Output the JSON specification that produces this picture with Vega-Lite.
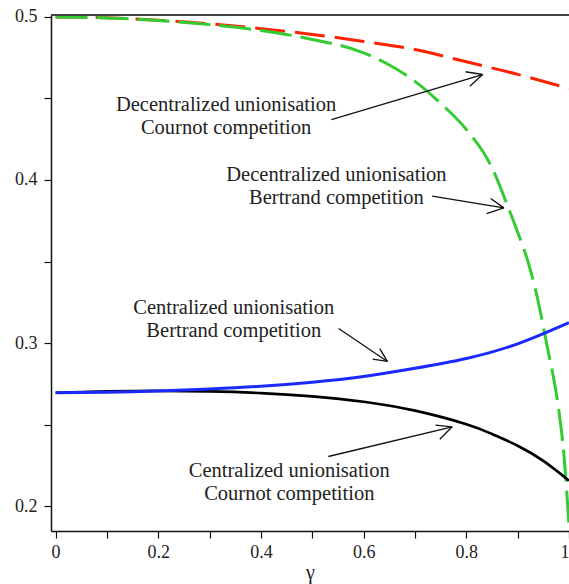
{
  "$schema": "https://vega.github.io/schema/vega-lite/v6.json",
  "width": 518,
  "height": 516,
  "autosize": {"type": "none"},
  "padding": {"left": 51, "top": 15, "right": 0, "bottom": 53},
  "background": "white",
  "config": {
    "view": {"stroke": null},
    "font": "Liberation Serif",
    "axis": {
      "grid": false,
      "domainColor": "#111",
      "domainWidth": 1.5,
      "tickColor": "#111",
      "tickWidth": 1.2,
      "tickSize": 7,
      "labelFont": "Liberation Serif",
      "labelFontSize": 18,
      "labelColor": "#222",
      "titleFont": "Liberation Serif",
      "titleFontWeight": "normal",
      "titleColor": "#222"
    }
  },
  "datasets": {
    "curves": [
      {"series": "dc", "x": 0.0, "y": 0.5},
      {"series": "dc", "x": 0.1, "y": 0.4995},
      {"series": "dc", "x": 0.2, "y": 0.498},
      {"series": "dc", "x": 0.3, "y": 0.4958},
      {"series": "dc", "x": 0.4, "y": 0.4928},
      {"series": "dc", "x": 0.5, "y": 0.4893},
      {"series": "dc", "x": 0.6, "y": 0.485},
      {"series": "dc", "x": 0.7, "y": 0.48},
      {"series": "dc", "x": 0.8, "y": 0.4725},
      {"series": "dc", "x": 0.9, "y": 0.4648},
      {"series": "dc", "x": 1.0, "y": 0.4561},
      {"series": "db", "x": 0.0, "y": 0.5},
      {"series": "db", "x": 0.1, "y": 0.4994},
      {"series": "db", "x": 0.2, "y": 0.4978},
      {"series": "db", "x": 0.3, "y": 0.4953},
      {"series": "db", "x": 0.4, "y": 0.4917},
      {"series": "db", "x": 0.5, "y": 0.4862},
      {"series": "db", "x": 0.6, "y": 0.478},
      {"series": "db", "x": 0.65, "y": 0.4705},
      {"series": "db", "x": 0.7, "y": 0.4605},
      {"series": "db", "x": 0.75, "y": 0.447},
      {"series": "db", "x": 0.8, "y": 0.431},
      {"series": "db", "x": 0.85, "y": 0.4075},
      {"series": "db", "x": 0.88, "y": 0.3845},
      {"series": "db", "x": 0.9, "y": 0.368},
      {"series": "db", "x": 0.92, "y": 0.35},
      {"series": "db", "x": 0.94, "y": 0.3255},
      {"series": "db", "x": 0.95, "y": 0.31},
      {"series": "db", "x": 0.96, "y": 0.294},
      {"series": "db", "x": 0.97, "y": 0.2785},
      {"series": "db", "x": 0.98, "y": 0.259},
      {"series": "db", "x": 0.99, "y": 0.232},
      {"series": "db", "x": 1.0, "y": 0.188},
      {"series": "cb", "x": 0.0, "y": 0.2695},
      {"series": "cb", "x": 0.1, "y": 0.2698},
      {"series": "cb", "x": 0.2, "y": 0.2705},
      {"series": "cb", "x": 0.3, "y": 0.2718},
      {"series": "cb", "x": 0.4, "y": 0.2735},
      {"series": "cb", "x": 0.5, "y": 0.276},
      {"series": "cb", "x": 0.6, "y": 0.2795},
      {"series": "cb", "x": 0.7, "y": 0.2845},
      {"series": "cb", "x": 0.8, "y": 0.2905},
      {"series": "cb", "x": 0.9, "y": 0.2995},
      {"series": "cb", "x": 1.0, "y": 0.3125},
      {"series": "cc", "x": 0.0, "y": 0.2695},
      {"series": "cc", "x": 0.1, "y": 0.2703},
      {"series": "cc", "x": 0.2, "y": 0.2706},
      {"series": "cc", "x": 0.3, "y": 0.2703},
      {"series": "cc", "x": 0.4, "y": 0.2693},
      {"series": "cc", "x": 0.5, "y": 0.2673},
      {"series": "cc", "x": 0.6, "y": 0.264},
      {"series": "cc", "x": 0.7, "y": 0.2585},
      {"series": "cc", "x": 0.8, "y": 0.2502},
      {"series": "cc", "x": 0.85, "y": 0.2442},
      {"series": "cc", "x": 0.9, "y": 0.237},
      {"series": "cc", "x": 0.95, "y": 0.2277},
      {"series": "cc", "x": 1.0, "y": 0.2156}
    ],
    "arrows": [
      {"x": 0.5371, "y": 0.4371, "x2": 0.8316, "y2": 0.4647},
      {"x": 0.7985, "y": 0.4664, "x2": 0.8316, "y2": 0.4647},
      {"x": 0.8069, "y": 0.4575, "x2": 0.8316, "y2": 0.4647},
      {"x": 0.7335, "y": 0.3901, "x2": 0.8732, "y2": 0.3829},
      {"x": 0.8473, "y": 0.3887, "x2": 0.8732, "y2": 0.3829},
      {"x": 0.8395, "y": 0.3794, "x2": 0.8732, "y2": 0.3829},
      {"x": 0.5513, "y": 0.3089, "x2": 0.6463, "y2": 0.2887},
      {"x": 0.6313, "y": 0.2966, "x2": 0.6463, "y2": 0.2887},
      {"x": 0.6174, "y": 0.2901, "x2": 0.6463, "y2": 0.2887},
      {"x": 0.5312, "y": 0.2304, "x2": 0.7725, "y2": 0.2486},
      {"x": 0.74, "y": 0.2496, "x2": 0.7725, "y2": 0.2486},
      {"x": 0.7483, "y": 0.241, "x2": 0.7725, "y2": 0.2486}
    ],
    "labels": [
      {"x": 0.332, "y": 0.4426, "text": ["Decentralized unionisation", "Cournot competition"]},
      {"x": 0.547, "y": 0.3991, "text": ["Decentralized unionisation", "Bertrand competition"]},
      {"x": 0.347, "y": 0.3181, "text": ["Centralized unionisation", "Bertrand competition"]},
      {"x": 0.4552, "y": 0.2181, "text": ["Centralized unionisation", "Cournot competition"]}
    ],
    "frame": [{"y": 0.5012}]
  },
  "layer": [
    {
      "data": {"name": "curves"},
      "transform": [{"filter": "datum.series === 'dc'"}],
      "mark": {"type": "line", "color": "#ff2200", "strokeWidth": 3, "strokeDash": [30, 10], "interpolate": "natural"},
      "encoding": {
        "x": {
          "field": "x", "type": "quantitative",
          "scale": {"domain": [-0.009, 1.0], "nice": false, "zero": false},
          "axis": {
            "values": [0, 0.1, 0.2, 0.3, 0.4, 0.5, 0.6, 0.7, 0.8, 0.9, 1],
            "labelExpr": "round(datum.value * 10) % 2 == 0 ? format(datum.value, '~g') : ''",
            "labelPadding": 5,
            "title": "γ",
            "titleFontSize": 20,
            "titlePadding": 1
          }
        },
        "y": {
          "field": "y", "type": "quantitative",
          "scale": {"domain": [0.1847, 0.5012], "nice": false, "zero": false},
          "axis": {
            "values": [0.2, 0.25, 0.3, 0.35, 0.4, 0.45, 0.5],
            "labelExpr": "round(datum.value * 100) % 10 == 0 ? format(datum.value, '~g') : ''",
            "labelPadding": 7,
            "title": null
          }
        }
      }
    },
    {
      "data": {"name": "curves"},
      "transform": [{"filter": "datum.series === 'db'"}],
      "mark": {"type": "line", "color": "#33cc33", "strokeWidth": 3, "strokeDash": [32, 9], "interpolate": "monotone"},
      "encoding": {
        "x": {"field": "x", "type": "quantitative"},
        "y": {"field": "y", "type": "quantitative"}
      }
    },
    {
      "data": {"name": "curves"},
      "transform": [{"filter": "datum.series === 'cc'"}],
      "mark": {"type": "line", "color": "#000000", "strokeWidth": 2.7, "interpolate": "natural"},
      "encoding": {
        "x": {"field": "x", "type": "quantitative"},
        "y": {"field": "y", "type": "quantitative"}
      }
    },
    {
      "data": {"name": "curves"},
      "transform": [{"filter": "datum.series === 'cb'"}],
      "mark": {"type": "line", "color": "#1a2aff", "strokeWidth": 3, "interpolate": "natural"},
      "encoding": {
        "x": {"field": "x", "type": "quantitative"},
        "y": {"field": "y", "type": "quantitative"}
      }
    },
    {
      "data": {"name": "arrows"},
      "mark": {"type": "rule", "color": "#111", "strokeWidth": 1.3},
      "encoding": {
        "x": {"field": "x", "type": "quantitative"},
        "y": {"field": "y", "type": "quantitative"},
        "x2": {"field": "x2"},
        "y2": {"field": "y2"}
      }
    },
    {
      "data": {"name": "labels"},
      "mark": {"type": "text", "font": "Liberation Serif", "fontSize": 20.5, "color": "#222", "align": "center", "baseline": "alphabetic", "lineHeight": 23},
      "encoding": {
        "x": {"field": "x", "type": "quantitative"},
        "y": {"field": "y", "type": "quantitative"},
        "text": {"field": "text"}
      }
    },
    {
      "data": {"name": "frame"},
      "mark": {"type": "rule", "color": "#444", "strokeWidth": 2},
      "encoding": {
        "y": {"field": "y", "type": "quantitative"}
      }
    }
  ]
}
